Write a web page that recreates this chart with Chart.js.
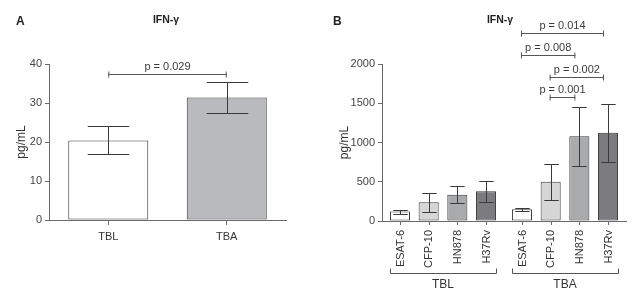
<!DOCTYPE html>
<html><head><meta charset="utf-8">
<script src="https://cdn.jsdelivr.net/npm/chart.js@4"></script>
<style>
html,body{margin:0;padding:0;background:#fff;}
#wrap{position:relative;width:643px;height:294px;overflow:hidden;}
#ca{position:absolute;left:0;top:0;}
#cb{position:absolute;left:320px;top:0;}
</style></head><body>
<div id="wrap"><canvas id="ca" width="320" height="294"></canvas><canvas id="cb" width="323" height="294"></canvas></div>
<script>
// ---------- DATA ----------
const aCategories = ['TBL', 'TBA'];
const aMeans = [20.4, 31.4];
const aErrLow = [16.9, 27.4];
const aErrHigh = [24.0, 35.5];
const aYTicks = [0, 10, 20, 30, 40];
const aPValues = ['p = 0.029'];
const aPairs = [[0, 1]];

const bGroups = ['TBL', 'TBA'];
const bAntigens = ['ESAT-6', 'CFP-10', 'HN878', 'H37Rv'];
const bTBLMeans = [120, 238, 335, 378];
const bTBLLow = [95, 115, 225, 242];
const bTBLHigh = [140, 353, 442, 506];
const bTBAMeans = [150, 501, 1079, 1125];
const bTBALow = [130, 264, 701, 752];
const bTBAHigh = [168, 730, 1449, 1491];
const bYTicks = [0, 500, 1000, 1500, 2000];
const bPValues = ['p = 0.014', 'p = 0.008', 'p = 0.002', 'p = 0.001'];
const bPairs = [[0, 3], [0, 2], [1, 3], [1, 2]]; // antigen indices inside the TBA group

// ---------- STYLE / LAYOUT ----------
const FONT = '"Liberation Sans", Arial, Helvetica, sans-serif';
const aBracketLevels = [37.5];
const bBracketLevels = [2395, 2115, 1838, 1576];
const aColors = ['#ffffff', '#b9babe'];
const bColors = ['#ffffff', '#d6d6d7', '#a9aaac', '#7c7c80'];
const AXIS = '#6a6a6a';
const INK = '#3a3a3a';

function line(ctx, x1, y1, x2, y2) {
  ctx.beginPath(); ctx.moveTo(x1, y1); ctx.lineTo(x2, y2); ctx.stroke();
}

// error bars plugin
const errorBars = {
  id: 'errorBars',
  afterDatasetsDraw(chart, args, opts) {
    const ctx = chart.ctx, y = chart.scales.y;
    ctx.save();
    ctx.strokeStyle = INK; ctx.lineWidth = 1;
    chart.data.datasets.forEach((ds, i) => {
      const meta = chart.getDatasetMeta(i);
      meta.data.forEach((el, j) => {
        const x = Math.round(el.x) + 0.5;
        const yl = Math.round(y.getPixelForValue(opts.low[i][j])) + 0.5;
        const yh = Math.round(y.getPixelForValue(opts.high[i][j])) + 0.5;
        const cw = el.width * opts.cap / 2;
        line(ctx, x, yh, x, yl);
        line(ctx, x - cw, yh, x + cw, yh);
        line(ctx, x - cw, yl, x + cw, yl);
      });
    });
    ctx.restore();
  }
};

function drawBracket(ctx, x1, x2, yPix, label) {
  ctx.strokeStyle = '#555'; ctx.lineWidth = 1;
  const yy = Math.round(yPix) + 0.5;
  line(ctx, x1, yy, x2, yy);
  line(ctx, x1 + 0.5, yy - 3, x1 + 0.5, yy + 3);
  line(ctx, x2 - 0.5, yy - 3, x2 - 0.5, yy + 3);
  ctx.fillStyle = '#3c3c3c';
  ctx.font = '11px ' + FONT;
  ctx.textAlign = 'center'; ctx.textBaseline = 'middle';
  ctx.fillText(label, (x1 + x2) / 2, yy - 8);
}

function drawHeader(ctx, letter, lx, title, tx) {
  ctx.fillStyle = '#222';
  ctx.font = 'bold 12px ' + FONT;
  ctx.textAlign = 'left'; ctx.textBaseline = 'middle';
  ctx.fillText(letter, lx, 22);
  ctx.font = 'bold 10.5px ' + FONT;
  ctx.textAlign = 'center';
  ctx.fillText(title, tx, 20);
}

const annotA = {
  id: 'annotA',
  afterDraw(chart) {
    const ctx = chart.ctx, y = chart.scales.y;
    ctx.save();
    const meta = chart.getDatasetMeta(0);
    aPairs.forEach((p, k) => {
      drawBracket(ctx, meta.data[p[0]].x, meta.data[p[1]].x, y.getPixelForValue(aBracketLevels[k]), aPValues[k]);
    });
    drawHeader(ctx, 'A', 16, 'IFN-γ', 166);
    ctx.restore();
  }
};

const annotB = {
  id: 'annotB',
  afterDraw(chart) {
    const ctx = chart.ctx, y = chart.scales.y, area = chart.chartArea;
    ctx.save();
    // small ticks under each bar + rotated antigen labels
    ctx.strokeStyle = AXIS; ctx.lineWidth = 1;
    ctx.fillStyle = '#333';
    ctx.font = '11px ' + FONT;
    chart.data.datasets.forEach((ds, i) => {
      const meta = chart.getDatasetMeta(i);
      meta.data.forEach(el => {
        const x = Math.round(el.x) + 0.5;
        line(ctx, x, area.bottom, x, area.bottom + 4);
        ctx.save();
        ctx.translate(el.x + 0.5, area.bottom + 9);
        ctx.rotate(-Math.PI / 2);
        ctx.textAlign = 'right'; ctx.textBaseline = 'middle';
        ctx.fillText(ds.label, 0, 0);
        ctx.restore();
      });
    });
    // group brackets
    const n = chart.data.datasets.length;
    ctx.strokeStyle = '#555';
    bGroups.forEach((g, j) => {
      const first = chart.getDatasetMeta(0).data[j];
      const last = chart.getDatasetMeta(n - 1).data[j];
      const x1 = Math.round(first.x - first.width / 2) + 0.5;
      const x2 = Math.round(last.x + last.width / 2) + 0.5;
      const yy = area.bottom + 52.5;
      line(ctx, x1, yy, x2, yy);
      line(ctx, x1, yy - 5, x1, yy);
      line(ctx, x2, yy - 5, x2, yy);
    });
    // significance brackets (TBA group)
    bPairs.forEach((p, k) => {
      const e1 = chart.getDatasetMeta(p[0]).data[1];
      const e2 = chart.getDatasetMeta(p[1]).data[1];
      drawBracket(ctx, e1.x - 1, e2.x - 4, y.getPixelForValue(bBracketLevels[k]), bPValues[k]);
    });
    drawHeader(ctx, 'B', 13, 'IFN-γ', 180);
    ctx.restore();
  }
};

const tickFont = { family: FONT, size: 11 };

new Chart(document.getElementById('ca'), {
  type: 'bar',
  data: {
    labels: aCategories,
    datasets: [{
      data: aMeans,
      backgroundColor: aColors,
      borderColor: INK, borderWidth: 1, borderSkipped: false,
      barPercentage: 0.675, categoryPercentage: 1
    }]
  },
  options: {
    responsive: false, animation: false, devicePixelRatio: 1,
    layout: { padding: { left: 0, right: 34, top: 64, bottom: 0 } },
    plugins: {
      legend: { display: false }, tooltip: { enabled: false }, title: { display: false },
      errorBars: { low: [aErrLow], high: [aErrHigh], cap: 0.52 }
    },
    scales: {
      x: {
        grid: { display: true, drawOnChartArea: false, drawTicks: true, tickLength: 5, offset: false, color: AXIS },
        border: { color: AXIS },
        ticks: { font: tickFont, color: '#333', padding: 5 },
        afterFit: s => { s.height = 74; }
      },
      y: {
        min: 0, max: 40,
        afterBuildTicks: s => { s.ticks = aYTicks.map(v => ({ value: v })); },
        grid: { drawOnChartArea: false, tickLength: 4, color: AXIS },
        border: { color: AXIS },
        ticks: { font: tickFont, color: '#444', padding: 3, callback: v => String(v) },
        title: { display: true, text: 'pg/mL', font: { family: FONT, size: 12 }, color: '#333', padding: { top: 14.5, bottom: 0 } },
        afterFit: s => { s.width = 49; }
      }
    }
  },
  plugins: [errorBars, annotA]
});

new Chart(document.getElementById('cb'), {
  type: 'bar',
  data: {
    labels: bGroups,
    datasets: bAntigens.map((name, k) => ({
      label: name,
      data: [bTBLMeans[k], bTBAMeans[k]],
      backgroundColor: bColors[k],
      borderColor: INK, borderWidth: 1, borderSkipped: false,
      barPercentage: 0.70, categoryPercentage: 0.94
    }))
  },
  options: {
    responsive: false, animation: false, devicePixelRatio: 1,
    layout: { padding: { left: 0, right: 17, top: 64, bottom: 0 } },
    plugins: {
      legend: { display: false }, tooltip: { enabled: false }, title: { display: false },
      errorBars: {
        low: bAntigens.map((n, k) => [bTBLLow[k], bTBALow[k]]),
        high: bAntigens.map((n, k) => [bTBLHigh[k], bTBAHigh[k]]),
        cap: 0.72
      }
    },
    scales: {
      x: {
        grid: { display: false, drawTicks: false },
        border: { display: true, color: AXIS },
        ticks: { font: { family: FONT, size: 12 }, color: '#333', padding: 56 },
        afterFit: s => { s.height = 73; }
      },
      y: {
        min: 0, max: 2000,
        afterBuildTicks: s => { s.ticks = bYTicks.map(v => ({ value: v })); },
        grid: { drawOnChartArea: false, tickLength: 4, color: AXIS },
        border: { color: AXIS },
        ticks: { font: tickFont, color: '#444', padding: 3, callback: v => String(v) },
        title: { display: true, text: 'pg/mL', font: { family: FONT, size: 12 }, color: '#333', padding: { top: 17.5, bottom: 0 } },
        afterFit: s => { s.width = 62; }
      }
    }
  },
  plugins: [errorBars, annotB]
});
</script>
</body></html>
